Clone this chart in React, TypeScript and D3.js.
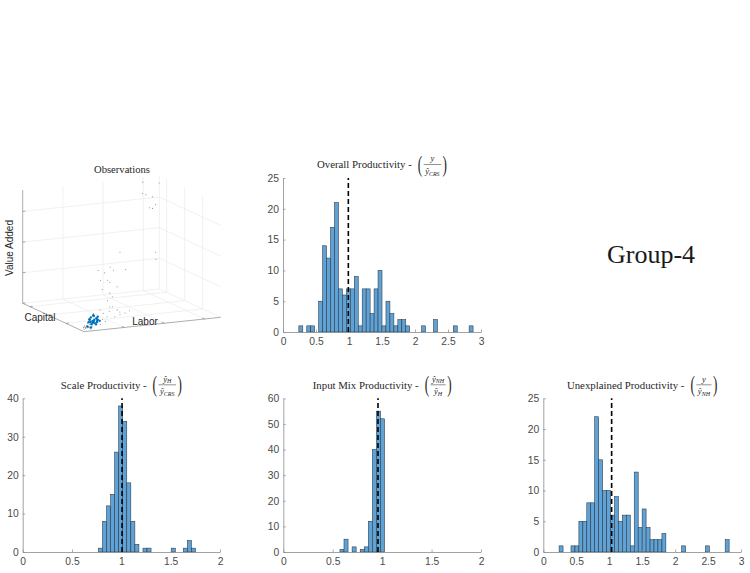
import React, { useEffect, useRef } from 'react';
import * as d3 from 'd3';

const W = 750;
const H = 573;
const SERIF = '"Liberation Serif", "DejaVu Serif", serif';
const SANS = '"Liberation Sans", Arial, sans-serif';

// histogram counts, one per bin (bins start at *Start, step *Width)
const overallCounts = [1, 0, 1, 1, 0, 5, 14, 12, 17, 21, 7, 6, 7, 7, 9, 1, 7, 7, 3, 7, 10, 1, 5, 3, 1, 2, 2, 1, 0, 0, 0, 1, 0, 0, 2, 0, 0, 0, 0, 1, 0, 0, 0, 1];
const overallStart = 0.24;
const overallWidth = 0.06;
const overallMean = 0.99;

const scaleCounts = [1, 8, 12, 15, 26, 38, 34, 18, 8, 2, 0, 1, 1, 0, 0, 0, 0, 0, 1, 0, 0, 1, 3, 1];
const scaleStart = 0.768;
const scaleWidth = 0.041;
const scaleMean = 1.007;

const inputMixCounts = [1, 5, 0, 2, 0, 1, 2, 12, 40, 55, 52];
const inputMixStart = 0.573;
const inputMixWidth = 0.041;
const inputMixMean = 0.958;

const unexplainedCounts = [1, 0, 0, 1, 1, 5, 5, 8, 8, 22, 15, 10, 10, 6, 9, 5, 6, 6, 1, 13, 4, 7, 4, 2, 2, 2, 3, 0, 0, 0, 0, 1, 0, 0, 0, 0, 0, 1, 0, 0, 0, 0, 2];
const unexplainedStart = 0.24;
const unexplainedWidth = 0.06;
const unexplainedMean = 1.037;

const ticks3 = [0, 0.5, 1, 1.5, 2, 2.5, 3];
const ticks2 = [0, 0.5, 1, 1.5, 2];

// observations (labor, capital, value added) - all firms
const otherLabor = [2.91, 3.26, 3.02, 2.89, 3.16, 3.04, 3.26, 3.14, 1.81, 2.68, 2.73, 1.11, 0.78, 0.98, 1.18, 1.53, 1.03, 1.11, 1.28, 0.86, 0.93, 0.87, 0.95, 0.8, 0.87, 0.63, 0.7, 0.95, 1.05, 1.12, 0.45, 0.55, 0.8, 0.87, 0.38, 0.68, 1.0, 1.12, 1.25, 1.37, 0.63, 0.75, 0.08, 0.15, 0.22, 0.13, 0.2, 0.28, 0.17, 0.1, 0.18, 0.12, 0.25, 0.05, 0.14, 0.21, 0.09, 0.24, 0.16, 0.07];
const otherCapital = [3.23, 3.1, 3.3, 3.2, 3.25, 3.15, 3.3, 3.2, 2.04, 2.0, 2.1, 1.02, 0.95, 1.05, 1.0, 1.1, 0.98, 1.04, 1.02, 1.0, 1.06, 0.51, 0.55, 0.48, 0.5, 0.52, 0.49, 0.53, 0.5, 0.51, 0.47, 0.52, 0.5, 0.54, 0.5, 0.49, 0.52, 0.5, 0.51, 0.53, 0.5, 0.48, 0.17, 0.15, 0.18, 0.2, 0.16, 0.17, 0.19, 0.12, 0.2, 0.15, 0.18, 0.1, 0.22, 0.13, 0.16, 0.21, 0.11, 0.19];
const otherValue = [3.6, 3.56, 3.16, 3.25, 3.08, 2.77, 2.8, 2.72, 1.79, 1.68, 1.41, 1.68, 1.63, 1.5, 1.57, 1.52, 1.27, 1.17, 1.01, 1.29, 0.96, 1.0, 0.86, 0.77, 0.55, 0.48, 0.37, 0.54, 0.43, 0.35, 0.4, 0.23, 0.24, 0.4, 0.2, 0.18, 0.21, 0.26, 0.3, 0.35, 0.01, 0.1, 0.1, 0.13, 0.16, 0.06, 0.09, 0.11, 0.19, 0.08, 0.05, 0.12, 0.07, 0.04, 0.03, 0.02, 0.14, 0.04, 0.09, 0.07];

// observations of Group-4
const groupLabor = [0.25, 0.3, 0.35, 0.4, 0.45, 0.5, 0.43, 0.32, 0.37, 0.47, 0.52, 0.28, 0.4, 0.35, 0.45, 0.55, 0.3, 0.22, 0.38, 0.42, 0.33, 0.48];
const groupCapital = [0.3, 0.36, 0.4, 0.32, 0.28, 0.38, 0.42, 0.3, 0.34, 0.36, 0.4, 0.32, 0.38, 0.3, 0.34, 0.36, 0.28, 0.3, 0.33, 0.35, 0.37, 0.31];
const groupValue = [0.19, 0.25, 0.31, 0.25, 0.18, 0.21, 0.34, 0.12, 0.15, 0.28, 0.31, 0.28, 0.38, 0.22, 0.09, 0.18, 0.02, 0.06, 0.2, 0.14, 0.17, 0.24];

const axisTicks3d = [1, 2, 3];

type Part = { base: string; sub: string };
type Panel = {
  counts: number[]; start: number; width: number; mean: number;
  xMax: number; yMax: number; yStep: number; xTicks: number[];
  x0: number; x1: number; yb: number; yt: number;
  title: string; num: Part; den: Part;
};

const panels: Panel[] = [
  { counts: overallCounts, start: overallStart, width: overallWidth, mean: overallMean, xMax: 3, yMax: 25, yStep: 5, xTicks: ticks3,
    x0: 283, x1: 481, yb: 332, yt: 178, title: 'Overall Productivity -', num: { base: 'y', sub: '' }, den: { base: 'ŷ', sub: 'CRS' } },
  { counts: scaleCounts, start: scaleStart, width: scaleWidth, mean: scaleMean, xMax: 2, yMax: 40, yStep: 10, xTicks: ticks2,
    x0: 22.7, x1: 220, yb: 552, yt: 398.3, title: 'Scale Productivity -', num: { base: 'ŷ', sub: 'H' }, den: { base: 'ŷ', sub: 'CRS' } },
  { counts: inputMixCounts, start: inputMixStart, width: inputMixWidth, mean: inputMixMean, xMax: 2, yMax: 60, yStep: 10, xTicks: ticks2,
    x0: 283.3, x1: 481, yb: 552, yt: 398.3, title: 'Input Mix Productivity -', num: { base: 'ŷ', sub: 'NH' }, den: { base: 'ŷ', sub: 'H' } },
  { counts: unexplainedCounts, start: unexplainedStart, width: unexplainedWidth, mean: unexplainedMean, xMax: 3, yMax: 25, yStep: 5, xTicks: ticks3,
    x0: 543.3, x1: 741, yb: 552, yt: 398.3, title: 'Unexplained Productivity -', num: { base: 'y', sub: '' }, den: { base: 'ŷ', sub: 'NH' } },
];

function drawTitle(svg: any, cx: number, baseline: number, title: string, num: Part, den: Part) {
  const g = svg.append('g').attr('font-family', SERIF).attr('fill', '#262626');
  const main = g.append('text').attr('font-size', 10.8).attr('y', baseline).text(title);
  const mainW = main.node().getComputedTextLength();

  const frac = (p: Part, y: number) => {
    const t = g.append('text').attr('y', y).attr('font-style', 'italic');
    t.append('tspan').attr('font-size', 8.5).text(p.base);
    if (p.sub) t.append('tspan').attr('font-size', 6).attr('dy', 1.4).text(p.sub);
    return t;
  };
  const numT = frac(num, baseline - 7);
  const denT = frac(den, baseline + 5.8);
  const numW = numT.node().getComputedTextLength();
  const denW = denT.node().getComputedTextLength();
  const fracW = Math.max(numW, denW) + 3;
  const parenW = 4.4;
  const total = mainW + 6 + parenW + 1.5 + fracW + 1.5 + parenW;
  let x = cx - total / 2;
  main.attr('x', x);
  x += mainW + 6;
  g.append('text').attr('font-size', 24)
    .attr('transform', `translate(${x},${baseline + 3.4}) scale(0.55,1)`).text('(');
  x += parenW + 1.5;
  numT.attr('x', x + (fracW - numW) / 2);
  denT.attr('x', x + (fracW - denW) / 2);
  g.append('line').attr('x1', x).attr('x2', x + fracW).attr('y1', baseline - 3.8).attr('y2', baseline - 3.8)
    .attr('stroke', '#262626').attr('stroke-width', 0.5);
  x += fracW + 1.5;
  g.append('text').attr('font-size', 24)
    .attr('transform', `translate(${x},${baseline + 3.4}) scale(0.55,1)`).text(')');
}

function drawHist(svg: any, p: Panel) {
  const x = d3.scaleLinear().domain([0, p.xMax]).range([p.x0, p.x1]);
  const y = d3.scaleLinear().domain([0, p.yMax]).range([p.yb, p.yt]);
  const g = svg.append('g');

  const bins = p.counts
    .map((c, i) => ({ lo: p.start + i * p.width, hi: p.start + (i + 1) * p.width, c }))
    .filter(b => b.c > 0);

  g.append('g').selectAll('rect').data(bins).join('rect')
    .attr('x', (d: any) => x(d.lo))
    .attr('width', (d: any) => x(d.hi) - x(d.lo))
    .attr('y', (d: any) => y(d.c))
    .attr('height', (d: any) => y(0) - y(d.c))
    .attr('fill', '#5fa3d6')
    .attr('stroke', '#2a3440')
    .attr('stroke-width', 0.55);

  const xAxis = g.append('g')
    .attr('transform', `translate(0,${p.yb})`)
    .call(d3.axisBottom(x).tickValues(p.xTicks).tickSize(-2.5).tickSizeOuter(0).tickPadding(6).tickFormat((d: any) => String(d)));
  const yAxis = g.append('g')
    .attr('transform', `translate(${p.x0},0)`)
    .call(d3.axisLeft(y).tickValues(d3.range(0, p.yMax + 0.001, p.yStep)).tickSize(-2.5).tickSizeOuter(0).tickPadding(4));

  [xAxis, yAxis].forEach(a => {
    a.select('.domain').attr('stroke', '#8a8a8a').attr('stroke-width', 0.8);
    a.selectAll('.tick line').attr('stroke', '#8a8a8a').attr('stroke-width', 0.7);
    a.selectAll('.tick text').attr('font-family', SANS).attr('font-size', 10.3).attr('fill', '#4a4a4a');
  });

  g.append('line')
    .attr('x1', x(p.mean)).attr('x2', x(p.mean))
    .attr('y1', y(0)).attr('y2', y(p.yMax))
    .attr('stroke', '#000').attr('stroke-width', 1.6).attr('stroke-dasharray', '5,3');

  drawTitle(svg, (p.x0 + p.x1) / 2, p.yt - 9.7, p.title, p.num, p.den);
}

function drawObservations(svg: any) {
  const lS = d3.scaleLinear().domain([0, 3.4]).range([0, 1]);
  const cS = d3.scaleLinear().domain([0, 3.4]).range([0, 1]);
  const zS = d3.scaleLinear().domain([0, 3.7]).range([0, 1]);
  // projection of the unit cube (MATLAB default 3-D view)
  const proj = (l: number, c: number, z: number): [number, number] => [
    84 + l * 136.7 - c * 61.3,
    331.7 - l * 14.4 - c * 28.4 - z * 113.3,
  ];
  const g = svg.append('g');
  const seg = (a: [number, number, number], b: [number, number, number], color: string, w: number) => {
    const p1 = proj(...a);
    const p2 = proj(...b);
    g.append('line').attr('x1', p1[0]).attr('y1', p1[1]).attr('x2', p2[0]).attr('y2', p2[1])
      .attr('stroke', color).attr('stroke-width', w);
  };
  const grid = '#e8e8e8';
  axisTicks3d.forEach(t => {
    const l = lS(t), c = cS(t), z = zS(t);
    seg([l, 1, 0], [l, 1, 1], grid, 0.6);
    seg([l, 0, 0], [l, 1, 0], grid, 0.6);
    seg([1, c, 0], [1, c, 1], grid, 0.6);
    seg([0, c, 0], [1, c, 0], grid, 0.6);
    seg([0, 1, z], [1, 1, z], grid, 0.6);
    seg([1, 0, z], [1, 1, z], grid, 0.6);
  });
  seg([1, 1, 0], [1, 1, 1], grid, 0.6);
  seg([0, 1, 0], [1, 1, 0], grid, 0.6);
  seg([1, 0, 0], [1, 1, 0], grid, 0.6);

  const ax = '#8a8a8a';
  seg([0, 1, 0], [0, 1, 1], ax, 0.7);
  seg([0, 0, 0], [0, 1, 0], ax, 0.7);
  seg([0, 0, 0], [1, 0, 0], ax, 0.7);
  [0, ...axisTicks3d].forEach(t => {
    seg([0, 1, zS(t)], [0.02, 1, zS(t)], ax, 0.7);
  });
  axisTicks3d.forEach(t => {
    seg([0, cS(t), 0], [0.02, cS(t), 0], ax, 0.7);
    seg([lS(t), 0, 0], [lS(t), 0.04, 0], ax, 0.7);
  });

  const others = otherLabor.map((l, i) => proj(lS(l), cS(otherCapital[i]), zS(otherValue[i])));
  g.append('g').selectAll('circle').data(others).join('circle')
    .attr('cx', (d: any) => d[0]).attr('cy', (d: any) => d[1]).attr('r', 0.55)
    .attr('fill', '#8c8c8c');
  const group = groupLabor.map((l, i) => proj(lS(l), cS(groupCapital[i]), zS(groupValue[i])));
  g.append('g').selectAll('circle').data(group).join('circle')
    .attr('cx', (d: any) => d[0]).attr('cy', (d: any) => d[1]).attr('r', 1.2)
    .attr('fill', '#0072bd');

  g.append('text').attr('x', 122).attr('y', 173).attr('text-anchor', 'middle')
    .attr('font-family', SERIF).attr('font-size', 10.6).attr('fill', '#262626').text('Observations');
  g.append('text').attr('transform', 'translate(13,248) rotate(-90)').attr('text-anchor', 'middle')
    .attr('font-family', SANS).attr('font-size', 10).attr('fill', '#262626').text('Value Added');
  g.append('text').attr('x', 40).attr('y', 321).attr('text-anchor', 'middle')
    .attr('font-family', SANS).attr('font-size', 10).attr('fill', '#262626').text('Capital');
  g.append('text').attr('x', 145).attr('y', 325).attr('text-anchor', 'middle')
    .attr('font-family', SANS).attr('font-size', 10).attr('fill', '#262626').text('Labor');
}

export default function App() {
  const svgRef = useRef<SVGSVGElement>(null);

  useEffect(() => {
    if (!svgRef.current) return;
    const svg = d3.select(svgRef.current);
    svg.selectAll('*').remove();

    svg.append('rect').attr('width', W).attr('height', H).attr('fill', '#fff');
    drawObservations(svg);
    panels.forEach(p => drawHist(svg, p));

    svg.append('text').attr('x', 651).attr('y', 263).attr('text-anchor', 'middle')
      .attr('font-family', SERIF).attr('font-size', 26).attr('fill', '#1a1a1a').text('Group-4');
  }, []);

  return (
    <svg ref={svgRef} width={W} height={H} style={{ position: 'absolute', left: 0, top: 0 }} />
  );
}
